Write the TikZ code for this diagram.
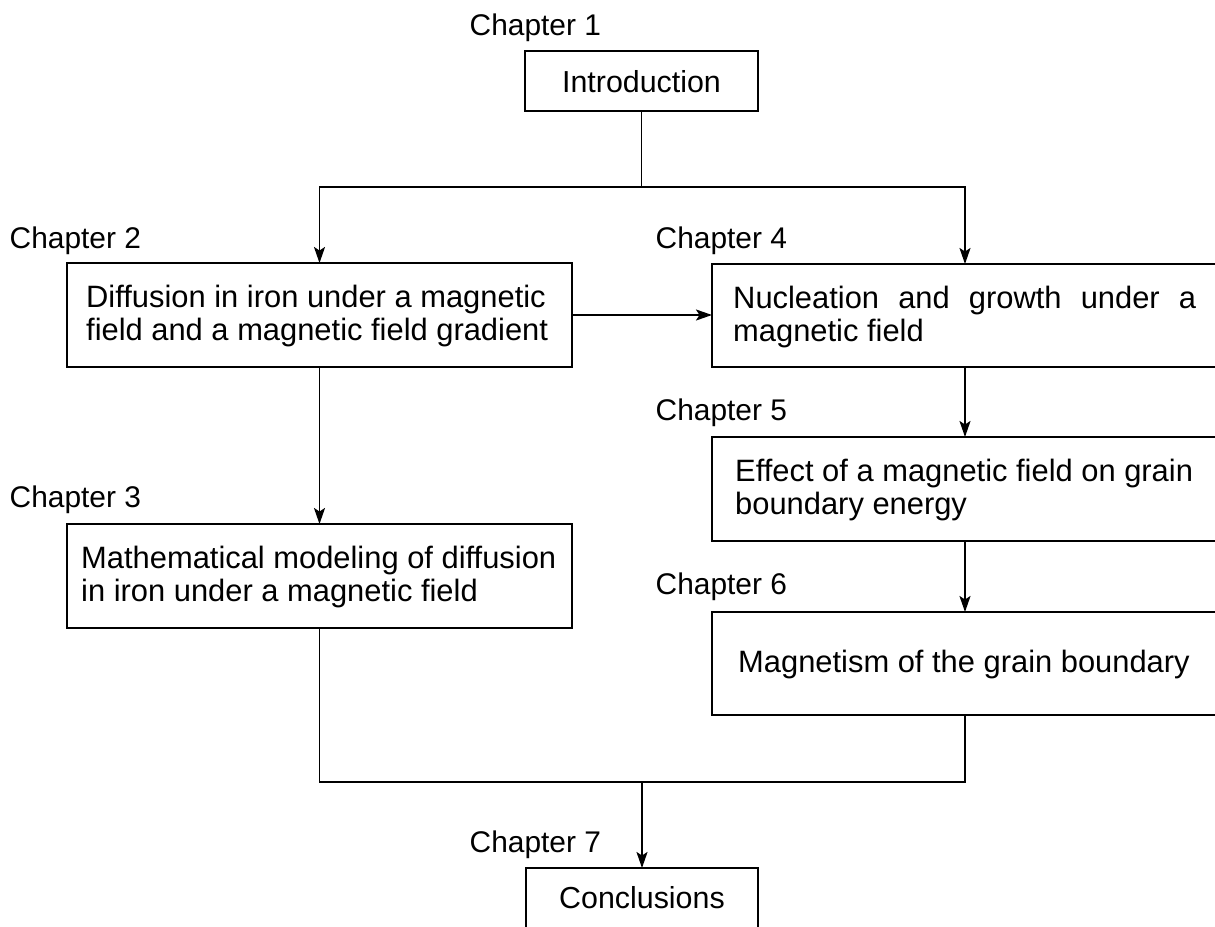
\documentclass[tikz,border=0pt]{standalone}
\usepackage{fontspec}
\setmainfont{Liberation Sans}
\usetikzlibrary{arrows.meta}
\newcommand{\mytwo}[2]{\vtop{\hbox{#1}\hbox{#2}}}
\begin{document}
\begin{tikzpicture}[x=1bp,y=-1bp,
  bx/.style={draw=black, line width=1.8bp, inner sep=0pt, outer sep=0pt},
  chap/.style={anchor=base west, inner sep=0pt, font=\fontsize{30}{34}\selectfont},
  txt/.style={anchor=base west, inner sep=0pt, font=\fontsize{31}{33.5}\selectfont},
  ctxt/.style={anchor=base, inner sep=0pt, font=\fontsize{30.5}{34}\selectfont},
  con/.style={line width=1.8bp, draw=black},
  arr/.style={con, -{Stealth[length=16bp,width=11bp,inset=3.5bp]}}]
\useasboundingbox (0,0) rectangle (1215,927);
\fill[white] (0,0) rectangle (1215,927);

% boxes
\node[bx, minimum width=233bp, minimum height=60bp]  (b1) at (641.5,81) {};
\node[bx, minimum width=505bp, minimum height=104bp] (b2) at (319.5,315) {};
\node[bx, minimum width=505bp, minimum height=104bp] (b3) at (319.5,576) {};
\node[bx, minimum width=506bp, minimum height=103bp] (b4) at (965,315.5) {};
\node[bx, minimum width=506bp, minimum height=104bp] (b5) at (965,489) {};
\node[bx, minimum width=506bp, minimum height=103bp] (b6) at (965,663.5) {};
\node[bx, minimum width=232bp, minimum height=77bp]  (b7) at (642,906.5) {};

% chapter labels
\node[chap] (ch1) at (469.5,35) {Chapter 1};
\node[chap] (ch2) at (9.5,248) {Chapter 2};
\node[chap] (ch3) at (9.5,507) {Chapter 3};
\node[chap] (ch4) at (655.5,248) {Chapter 4};
\node[chap] (ch5) at (655.5,420) {Chapter 5};
\node[chap] (ch6) at (655.5,594) {Chapter 6};
\node[chap] (ch7) at (469.5,852) {Chapter 7};

% box texts
\node[ctxt] (t1) at (641.5,92) {Introduction};
\node[txt] (t2) at (86,307) {\mytwo{Diffusion in iron under a magnetic}{field and a magnetic field gradient}};
\node[txt] (t3) at (81,568) {\mytwo{Mathematical modeling of diffusion}{in iron under a magnetic field}};
\node[txt] (t4) at (733,308) {\mytwo{\makebox[463bp][s]{Nucleation and growth under a}}{magnetic field}};
\node[txt] (t5) at (735,481.5) {\mytwo{Effect of a magnetic field on grain}{boundary energy}};
\node[txt] (t6) at (738,672) {Magnetism of the grain boundary};
\node[ctxt] (t7) at (642,908) {Conclusions};

% junctions
\coordinate (j1) at (641.5,187);
\coordinate (j2) at (642,782);

% connectors
\draw[con] (b1.south) -- (j1);
\draw[arr] (j1) -| (b2.north);
\draw[arr] (j1) -| (b4.north);
\draw[arr] (b2.east) -- (b2.east -| b4.west);
\draw[arr] (b2.south) -- (b3.north);
\draw[arr] (b4.south) -- (b5.north);
\draw[arr] (b5.south) -- (b6.north);
\draw[con] (b3.south) |- (j2) -| (b6.south);
\draw[arr] (j2) -- (b7.north);
\end{tikzpicture}
\end{document}
